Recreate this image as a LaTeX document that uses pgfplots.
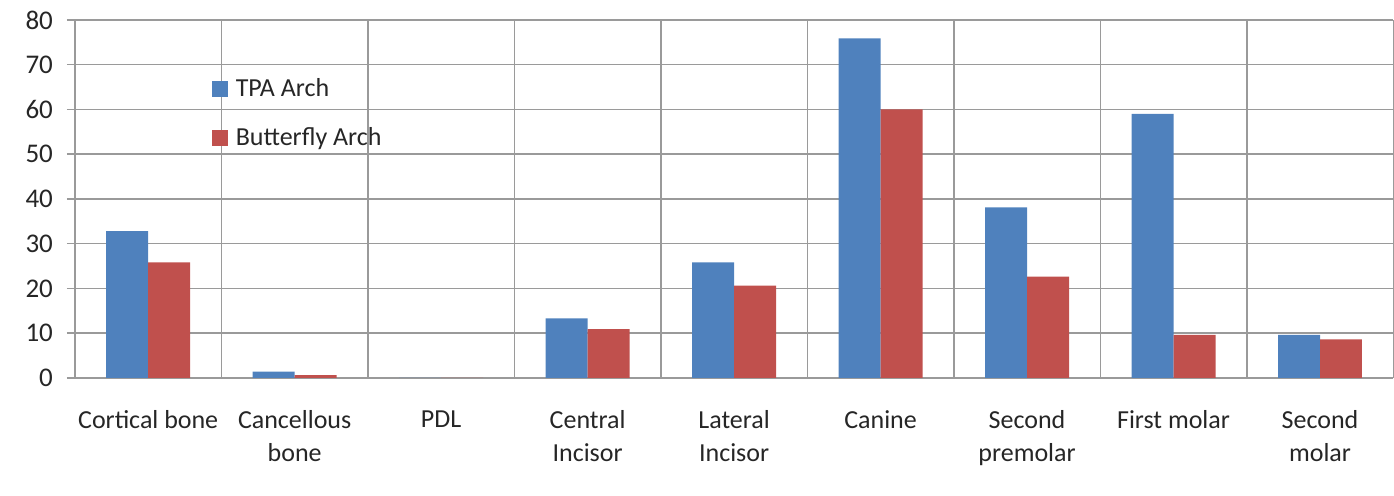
\documentclass[border=0pt]{standalone}
\usepackage{fontspec}
\setmainfont{Carlito}
\usepackage{pgfplots}
\pgfplotsset{compat=1.18}
\definecolor{tpa}{HTML}{4F81BD}
\definecolor{bfly}{HTML}{C0504D}
\definecolor{gridc}{HTML}{9A9A9A}
\definecolor{txt}{HTML}{262626}
\begin{document}
\begin{tikzpicture}
\begin{axis}[
  scale only axis,
  width=659.5pt, height=179pt,
  xmin=-0.5, xmax=8.5,
  ymin=0, ymax=80,
  ytick={0,10,...,80},
  xtick={0,1,...,8},
  xticklabels={Cortical bone, Cancellous\\bone, PDL, Central\\Incisor, Lateral\\Incisor, Canine, Second\\premolar, First molar, Second\\molar},
  minor xtick={-0.5,0.5,...,8.5},
  xminorgrids, ymajorgrids,
  grid style={gridc, line width=0.75pt},
  minor grid style={gridc, line width=0.75pt},
  axis x line*=bottom, axis y line*=left,
  axis line style={gridc, line width=0.75pt, -},
  tick align=outside,
  xtick style={draw=none},
  minor x tick style={gridc, line width=0.75pt},
  minor tick length=4pt,
  ytick style={gridc, line width=0.75pt},
  major tick length=4pt,
  xticklabel style={font=\fontsize{13}{16.5}\selectfont, text=txt, align=center, text depth=0pt, yshift=-9pt},
  yticklabel style={font=\fontsize{13.5}{15}\selectfont, text=txt, xshift=-3.5pt},
  /pgf/number format/assume math mode=true,
  ybar=0pt, bar width=21pt,
  legend style={draw=none, fill=none, at={(0.1035,0.85)}, anchor=north west,
    font=\fontsize{13}{15}\selectfont, text=txt, row sep=10pt, inner sep=0pt},
  legend cell align=left,
  legend image code/.code={\fill[#1] (0pt,-4pt) rectangle (8pt,4pt); \path (10pt,0pt);},
]
\addplot[fill=tpa, draw=none] coordinates {
 (0,32.8) (1,1.4) (2,0) (3,13.3) (4,25.8) (5,75.9) (6,38.1) (7,59.0) (8,9.6)};
\addplot[fill=bfly, draw=none] coordinates {
 (0,25.8) (1,0.6) (2,0) (3,10.9) (4,20.6) (5,60.0) (6,22.6) (7,9.6) (8,8.6)};
\legend{TPA Arch, Butterfly Arch}
\end{axis}
\path ([xshift=-37.5pt, yshift=-59pt]current axis.south west) rectangle ([yshift=10pt]current axis.north east);
\end{tikzpicture}
\end{document}
